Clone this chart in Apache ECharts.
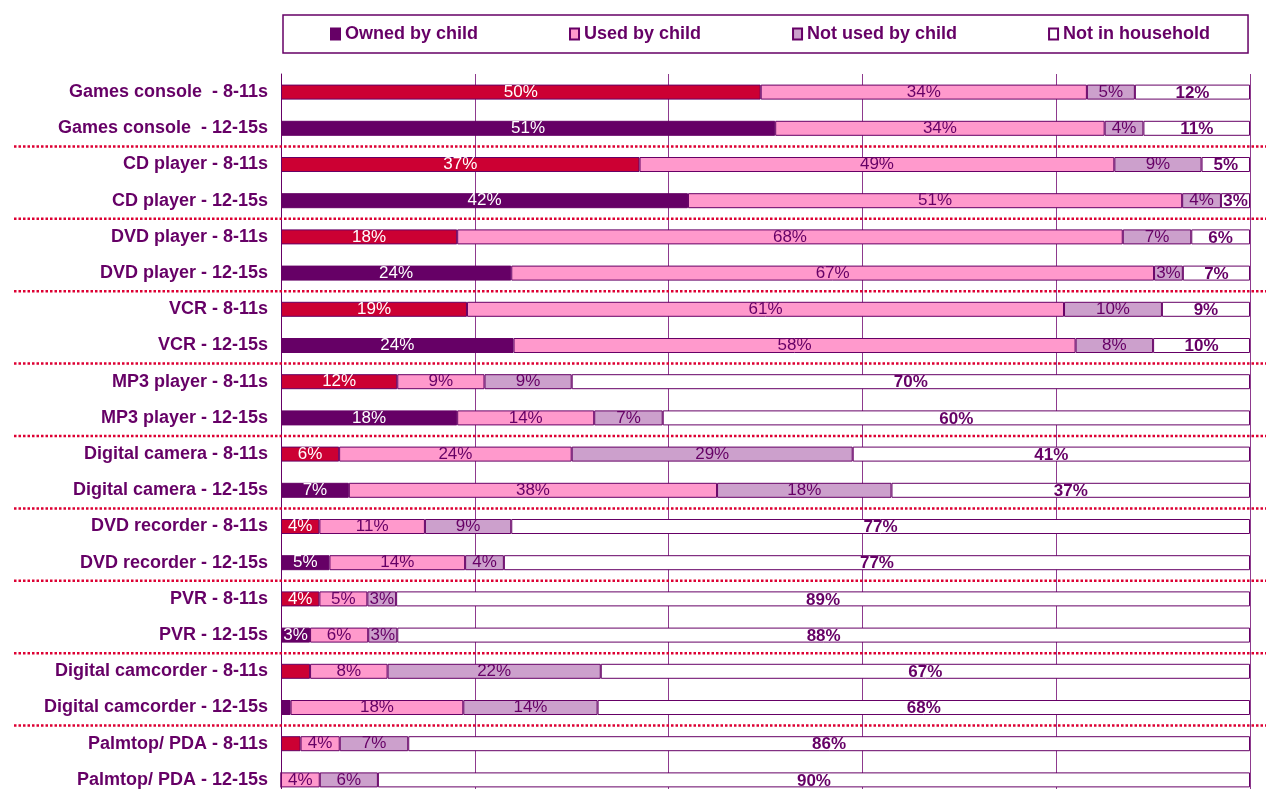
<!DOCTYPE html>
<html>
<head>
<meta charset="utf-8">
<script src="https://cdn.jsdelivr.net/npm/echarts@6/dist/echarts.min.js"></script>
<style>
  html, body { margin: 0; padding: 0; background: #fff; }
  #main { width: 1266px; height: 789px; }
</style>
</head>
<body>
<div id="main"></div>
<script>
// rows, top to bottom
var categories = [
  'Games console  - 8-11s', 'Games console  - 12-15s',
  'CD player - 8-11s', 'CD player - 12-15s',
  'DVD player - 8-11s', 'DVD player - 12-15s',
  'VCR - 8-11s', 'VCR - 12-15s',
  'MP3 player - 8-11s', 'MP3 player - 12-15s',
  'Digital camera - 8-11s', 'Digital camera - 12-15s',
  'DVD recorder - 8-11s', 'DVD recorder - 12-15s',
  'PVR - 8-11s', 'PVR - 12-15s',
  'Digital camcorder - 8-11s', 'Digital camcorder - 12-15s',
  'Palmtop/ PDA - 8-11s', 'Palmtop/ PDA - 12-15s'
];
var ownedByChild   = [50, 51, 37, 42, 18, 24, 19, 24, 12, 18, 6, 7, 4, 5, 4, 3, 3, 1, 2, 0];
var usedByChild    = [34, 34, 49, 51, 68, 67, 61, 58, 9, 14, 24, 38, 11, 14, 5, 6, 8, 18, 4, 4];
var notUsedByChild = [5, 4, 9, 4, 7, 3, 10, 8, 9, 7, 29, 18, 9, 4, 3, 3, 22, 14, 7, 6];
var notInHousehold = [12, 11, 5, 3, 6, 7, 9, 10, 70, 60, 41, 37, 77, 77, 89, 88, 67, 68, 86, 90];
var seriesNames = ['Owned by child', 'Used by child', 'Not used by child', 'Not in household'];
// rows whose "owned" label is not printed on the chart
var ownedLabelHidden = [16, 17, 18, 19];

var purple = '#660066';
var fontName = '"Liberation Sans", Arial, sans-serif';

function rowTotal(i){
    return ownedByChild[i] + usedByChild[i] + notUsedByChild[i] + notInHousehold[i];
}
// printed numbers are rounded, so bars are scaled to fill 100%
function share(arr){
    return arr.map(function(v, i){ return v / rowTotal(i) * 100; });
}
function pct(arr, hidden){
    return function(p){
        if (hidden && hidden.indexOf(p.dataIndex) >= 0) return '';
        return arr[p.dataIndex] + '%';
    };
}

var ownedData = share(ownedByChild).map(function(v, i){
    return { value: v, itemStyle: { color: i % 2 === 0 ? '#CC0033' : purple } };
});

var myChart = echarts.init(document.getElementById('main'));
var option = {
    animation: false,
    textStyle: { fontFamily: fontName },
    legend: {
        data: seriesNames,
        left: 283,
        top: 15,
        padding: [10, 38, 10, 47],
        itemGap: 91,
        itemWidth: 9,
        itemHeight: 11,
        icon: 'rect',
        borderColor: purple,
        borderWidth: 1.5,
        textStyle: { fontSize: 18, fontWeight: 'bold', color: purple, fontFamily: fontName }
    },
    grid: { left: 281, top: 74, width: 969, height: 724, containLabel: false, outerBoundsMode: 'none' },
    xAxis: {
        type: 'value',
        min: 0,
        max: 100,
        interval: 20,
        axisLabel: { show: false },
        axisLine: { show: false },
        axisTick: { show: false },
        splitLine: { show: true, lineStyle: { color: '#8E3A8E', width: 1 } }
    },
    yAxis: {
        type: 'category',
        inverse: true,
        data: categories,
        axisLine: { lineStyle: { color: purple, width: 1 } },
        axisTick: { length: 6, lineStyle: { color: purple } },
        axisLabel: { margin: 13, fontSize: 18, fontWeight: 'bold', color: purple, fontFamily: fontName }
    },
    series: [
        {
            name: seriesNames[0], type: 'bar', stack: 'total', barWidth: 15,
            itemStyle: { color: purple, borderColor: purple, borderWidth: 1 },
            label: { show: true, position: 'inside', color: '#fff', fontSize: 17,
                     formatter: pct(ownedByChild, ownedLabelHidden) },
            data: ownedData
        },
        {
            name: seriesNames[1], type: 'bar', stack: 'total', barWidth: 15,
            itemStyle: { color: '#FF99CC', borderColor: purple, borderWidth: 1 },
            label: { show: true, position: 'inside', color: purple, fontSize: 17,
                     formatter: pct(usedByChild) },
            data: share(usedByChild)
        },
        {
            name: seriesNames[2], type: 'bar', stack: 'total', barWidth: 15,
            itemStyle: { color: '#CCA0CC', borderColor: purple, borderWidth: 1 },
            label: { show: true, position: 'inside', color: purple, fontSize: 17,
                     formatter: pct(notUsedByChild) },
            data: share(notUsedByChild)
        },
        {
            name: seriesNames[3], type: 'bar', stack: 'total', barWidth: 15,
            itemStyle: { color: '#fff', borderColor: purple, borderWidth: 1 },
            label: { show: true, position: 'inside', color: purple, fontSize: 17, fontWeight: 'bold',
                     offset: [0, 1], formatter: pct(notInHousehold) },
            data: share(notInHousehold)
        }
    ]
};
myChart.setOption(option);

// dotted red separators between the product groups
var seps = [];
for (var i = 1; i < categories.length - 1; i += 2) {
    var y = (myChart.convertToPixel({ yAxisIndex: 0 }, categories[i]) +
             myChart.convertToPixel({ yAxisIndex: 0 }, categories[i + 1])) / 2;
    seps.push({
        type: 'line', z: 10,
        shape: { x1: 14, y1: y, x2: 1266, y2: y },
        style: { stroke: '#DD0033', lineWidth: 2.5, lineDash: [2.5, 2] }
    });
}
myChart.setOption({ graphic: seps });
</script>
</body>
</html>
